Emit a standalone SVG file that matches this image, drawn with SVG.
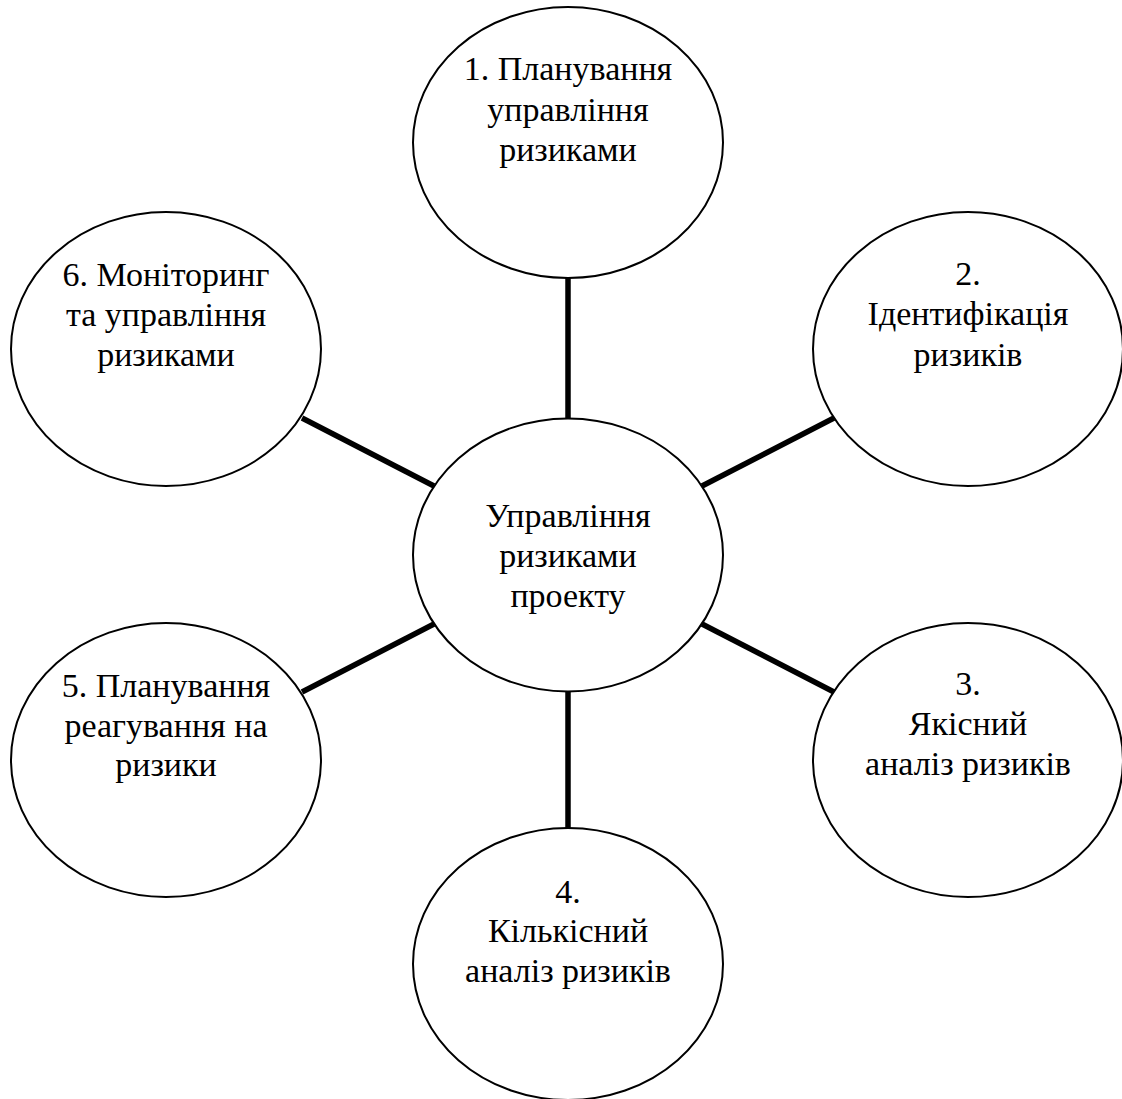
<svg xmlns="http://www.w3.org/2000/svg" width="1122" height="1099" viewBox="0 0 1122 1099">
  <style>
    .node { fill: #ffffff; stroke: #000000; stroke-width: 2; }
    .spoke { stroke: #000000; stroke-width: 5.5; stroke-linecap: butt; }
    text { font-family: 'Liberation Serif', 'DejaVu Serif', serif; font-size: 34px; fill: #000000; text-anchor: middle; }
  </style>
  <rect width="1122" height="1099" fill="#ffffff"/>

  <!-- spokes from the hub to each stage -->
  <g id="connectors">
    <line class="spoke" x1="568" y1="278" x2="568" y2="419"/>
    <line class="spoke" x1="702" y1="486" x2="834" y2="418"/>
    <line class="spoke" x1="702" y1="624" x2="834" y2="692"/>
    <line class="spoke" x1="568" y1="692" x2="568" y2="828"/>
    <line class="spoke" x1="434" y1="624" x2="302" y2="692"/>
    <line class="spoke" x1="434" y1="486" x2="302" y2="418"/>
  </g>

  <g id="hub" font-family="Liberation Serif, DejaVu Serif, serif">
    <ellipse class="node" cx="568" cy="555" rx="155" ry="136.5"/>
    <text x="568" y="527">Управління</text>
    <text x="568" y="567">ризиками</text>
    <text x="568" y="607">проекту</text>
  </g>

  <g id="stage1" font-family="Liberation Serif, DejaVu Serif, serif">
    <ellipse class="node" cx="568" cy="142.5" rx="155" ry="135.5"/>
    <text x="568" y="80">1. Планування</text>
    <text x="568" y="121">управління</text>
    <text x="568" y="161">ризиками</text>
  </g>

  <g id="stage2" font-family="Liberation Serif, DejaVu Serif, serif">
    <ellipse class="node" cx="968" cy="349" rx="155" ry="137"/>
    <text x="968" y="285">2.</text>
    <text x="968" y="325">Ідентифікація</text>
    <text x="968" y="366">ризиків</text>
  </g>

  <g id="stage3" font-family="Liberation Serif, DejaVu Serif, serif">
    <ellipse class="node" cx="968" cy="760" rx="155" ry="137"/>
    <text x="968" y="695">3.</text>
    <text x="968" y="735">Якісний</text>
    <text x="968" y="775">аналіз ризиків</text>
  </g>

  <g id="stage4" font-family="Liberation Serif, DejaVu Serif, serif">
    <ellipse class="node" cx="568" cy="964" rx="155" ry="136"/>
    <text x="568" y="903">4.</text>
    <text x="568" y="942">Кількісний</text>
    <text x="568" y="982">аналіз ризиків</text>
  </g>

  <g id="stage5" font-family="Liberation Serif, DejaVu Serif, serif">
    <ellipse class="node" cx="166" cy="760" rx="155" ry="137"/>
    <text x="166" y="697">5. Планування</text>
    <text x="166" y="737">реагування на</text>
    <text x="166" y="776">ризики</text>
  </g>

  <g id="stage6" font-family="Liberation Serif, DejaVu Serif, serif">
    <ellipse class="node" cx="166" cy="349" rx="155" ry="137"/>
    <text x="166" y="286">6. Моніторинг</text>
    <text x="166" y="326">та управління</text>
    <text x="166" y="366">ризиками</text>
  </g>
</svg>
